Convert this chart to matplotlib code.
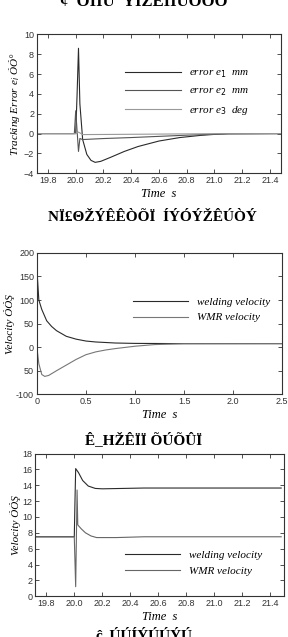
import numpy as np
import matplotlib
matplotlib.use("Agg")
import matplotlib.pyplot as plt

# --- panel (a): tracking errors ---
t_e1 = [19.72, 20.0, 20.01, 20.02, 20.03, 20.05, 20.08, 20.11, 20.14, 20.18, 20.25,
        20.35, 20.45, 20.6, 20.75, 20.9, 21.0, 21.1, 21.48]
e1 = [0, 0, 4.0, 8.6, 3.0, -0.6, -2.1, -2.7, -2.9, -2.8, -2.4,
      -1.8, -1.3, -0.75, -0.4, -0.18, -0.08, -0.02, 0]
t_e2 = [19.72, 19.99, 20.0, 20.02, 20.03, 20.05, 20.2, 20.4, 20.6, 20.8, 21.0, 21.1, 21.48]
e2 = [0, 0, 2.3, -1.8, -0.5, -0.6, -0.5, -0.4, -0.28, -0.16, -0.06, -0.02, 0]
t_e3 = [19.72, 20.0, 20.02, 20.05, 20.3, 20.6, 21.0, 21.48]
e3 = [0, 0, 0.15, -0.1, -0.08, -0.05, -0.01, 0]
err_labels = ["error e$_1$  mm", "error e$_2$  mm", "error e$_3$  deg"]

# --- panel (b): velocities at start ---
t_wv = [0, 0.005, 0.02, 0.05, 0.1, 0.15, 0.2, 0.3, 0.4, 0.5, 0.6, 0.8, 1.0, 1.5, 2.5]
wv = [190, 150, 100, 80, 56, 44, 35, 23, 17, 13, 11, 8.8, 8, 7.5, 7.5]
t_mv = [0, 0.02, 0.05, 0.08, 0.12, 0.2, 0.3, 0.4, 0.5, 0.6, 0.7, 0.8, 1.0, 1.2, 1.5, 2.5]
mv = [0, -35, -58, -62, -60, -50, -38, -26, -16, -10, -6, -3, 2, 5.5, 7.3, 7.5]
b_yticks = [-100, -50, 0, 50, 100, 150, 200]
b_ylabels = ["-100", "50", "0", "50", "100", "150", "200"]

# --- panel (c): velocities around disturbance ---
t_wv2 = [19.72, 20.0, 20.005, 20.01, 20.03, 20.06, 20.1, 20.15, 20.2, 20.5, 21.48]
wv2 = [7.5, 7.5, 12, 16.1, 15.6, 14.6, 13.9, 13.6, 13.55, 13.65, 13.65]
t_mv2 = [19.72, 20.0, 20.01, 20.02, 20.025, 20.03, 20.05, 20.08, 20.12, 20.16, 20.3, 20.5, 21.48]
mv2 = [7.5, 7.5, 1.2, 13.4, 9.0, 8.9, 8.5, 8.0, 7.6, 7.4, 7.4, 7.5, 7.5]
vel_labels = ["welding velocity", "WMR velocity"]

time_ticks = [19.8, 20.0, 20.2, 20.4, 20.6, 20.8, 21.0, 21.2, 21.4]

serif = "Liberation Serif"
tick_family = "Liberation Sans"

fig = plt.figure(figsize=(2.88, 6.37), dpi=100)
ax1 = fig.add_axes([0.128, 0.728, 0.848, 0.218])
ax2 = fig.add_axes([0.128, 0.381, 0.852, 0.222])
ax3 = fig.add_axes([0.122, 0.064, 0.864, 0.224])


def style(ax):
    ax.tick_params(direction="in", top=True, right=True, length=3, width=0.6,
                   colors="#333333", labelsize=6.5, pad=2)
    for lab in ax.get_xticklabels() + ax.get_yticklabels():
        lab.set_family(tick_family)
    for s in ax.spines.values():
        s.set_linewidth(0.8)
        s.set_color("#333333")
    ax.set_xlabel("Time  s", family=serif, style="italic", fontsize=9, labelpad=2)


legend_font = {"family": serif, "style": "italic", "size": 8}

ax1.plot(t_e1, e1, color="#2a2a2a", lw=0.8, label=err_labels[0])
ax1.plot(t_e2, e2, color="#555555", lw=0.8, label=err_labels[1])
ax1.plot(t_e3, e3, color="#999999", lw=0.8, label=err_labels[2])
ax1.set_xlim(19.72, 21.48)
ax1.set_ylim(-4, 10)
ax1.set_xticks(time_ticks)
ax1.set_xticklabels([f"{v:.1f}" for v in time_ticks])
ax1.set_yticks(range(-4, 11, 2))
style(ax1)
ax1.set_ylabel("Tracking Error e$_i$ ÕÕ°", family=serif, style="italic", fontsize=8, labelpad=1)
ax1.legend(loc="upper left", bbox_to_anchor=(0.32, 0.83), frameon=False,
           handlelength=5.0, labelspacing=0.55, prop=legend_font)

ax2.plot(t_wv, wv, color="#2a2a2a", lw=0.8, label=vel_labels[0])
ax2.plot(t_mv, mv, color="#777777", lw=0.8, label=vel_labels[1])
ax2.set_xlim(0, 2.5)
ax2.set_ylim(-100, 200)
ax2.set_xticks([0, 0.5, 1.0, 1.5, 2.0, 2.5])
ax2.set_xticklabels(["0", "0.5", "1.0", "1.5", "2.0", "2.5"])
ax2.set_yticks(b_yticks)
ax2.set_yticklabels(b_ylabels)
style(ax2)
ax2.set_ylabel("Velocity ÕÕŞ", family=serif, style="italic", fontsize=8, labelpad=1)
ax2.legend(loc="upper left", bbox_to_anchor=(0.35, 0.76), frameon=False,
           handlelength=5.0, labelspacing=0.55, prop=legend_font)

ax3.plot(t_wv2, wv2, color="#2a2a2a", lw=0.8, label=vel_labels[0])
ax3.plot(t_mv2, mv2, color="#666666", lw=0.8, label=vel_labels[1])
ax3.set_xlim(19.72, 21.5)
ax3.set_ylim(0, 18)
ax3.set_xticks(time_ticks)
ax3.set_xticklabels([f"{v:.1f}" for v in time_ticks])
ax3.set_yticks(range(0, 19, 2))
style(ax3)
ax3.set_ylabel("Velocity ÕÕŞ", family=serif, style="italic", fontsize=8, labelpad=1)
ax3.legend(loc="upper left", bbox_to_anchor=(0.32, 0.39), frameon=False,
           handlelength=5.0, labelspacing=0.55, prop=legend_font)

# garbled captions, as they appear in the source
fig.text(0.5, 0.997, "¢  ÕÎÎÛ  ÝÌŽÊÎÎÛÖÖÓ", ha="center", va="center",
         family=serif, fontweight="bold", fontsize=12)
fig.text(0.53, 0.659, "ΝÏ£ΘŽÝÊÊÒÕÏ  ÍÝÓÝŽÊÚÒÝ", ha="center", va="center",
         family=serif, fontweight="bold", fontsize=11)
fig.text(0.5, 0.309, "Ê_HŽÊÏÏ ÕÚÕÛÏ", ha="center", va="center",
         family=serif, fontweight="bold", fontsize=11)
fig.text(0.5, 0.003, "ĉ_ÚÚÍÝÚÚÝÚ", ha="center", va="center",
         family=serif, fontweight="bold", fontsize=11)

fig.savefig("out.png", dpi=100)
